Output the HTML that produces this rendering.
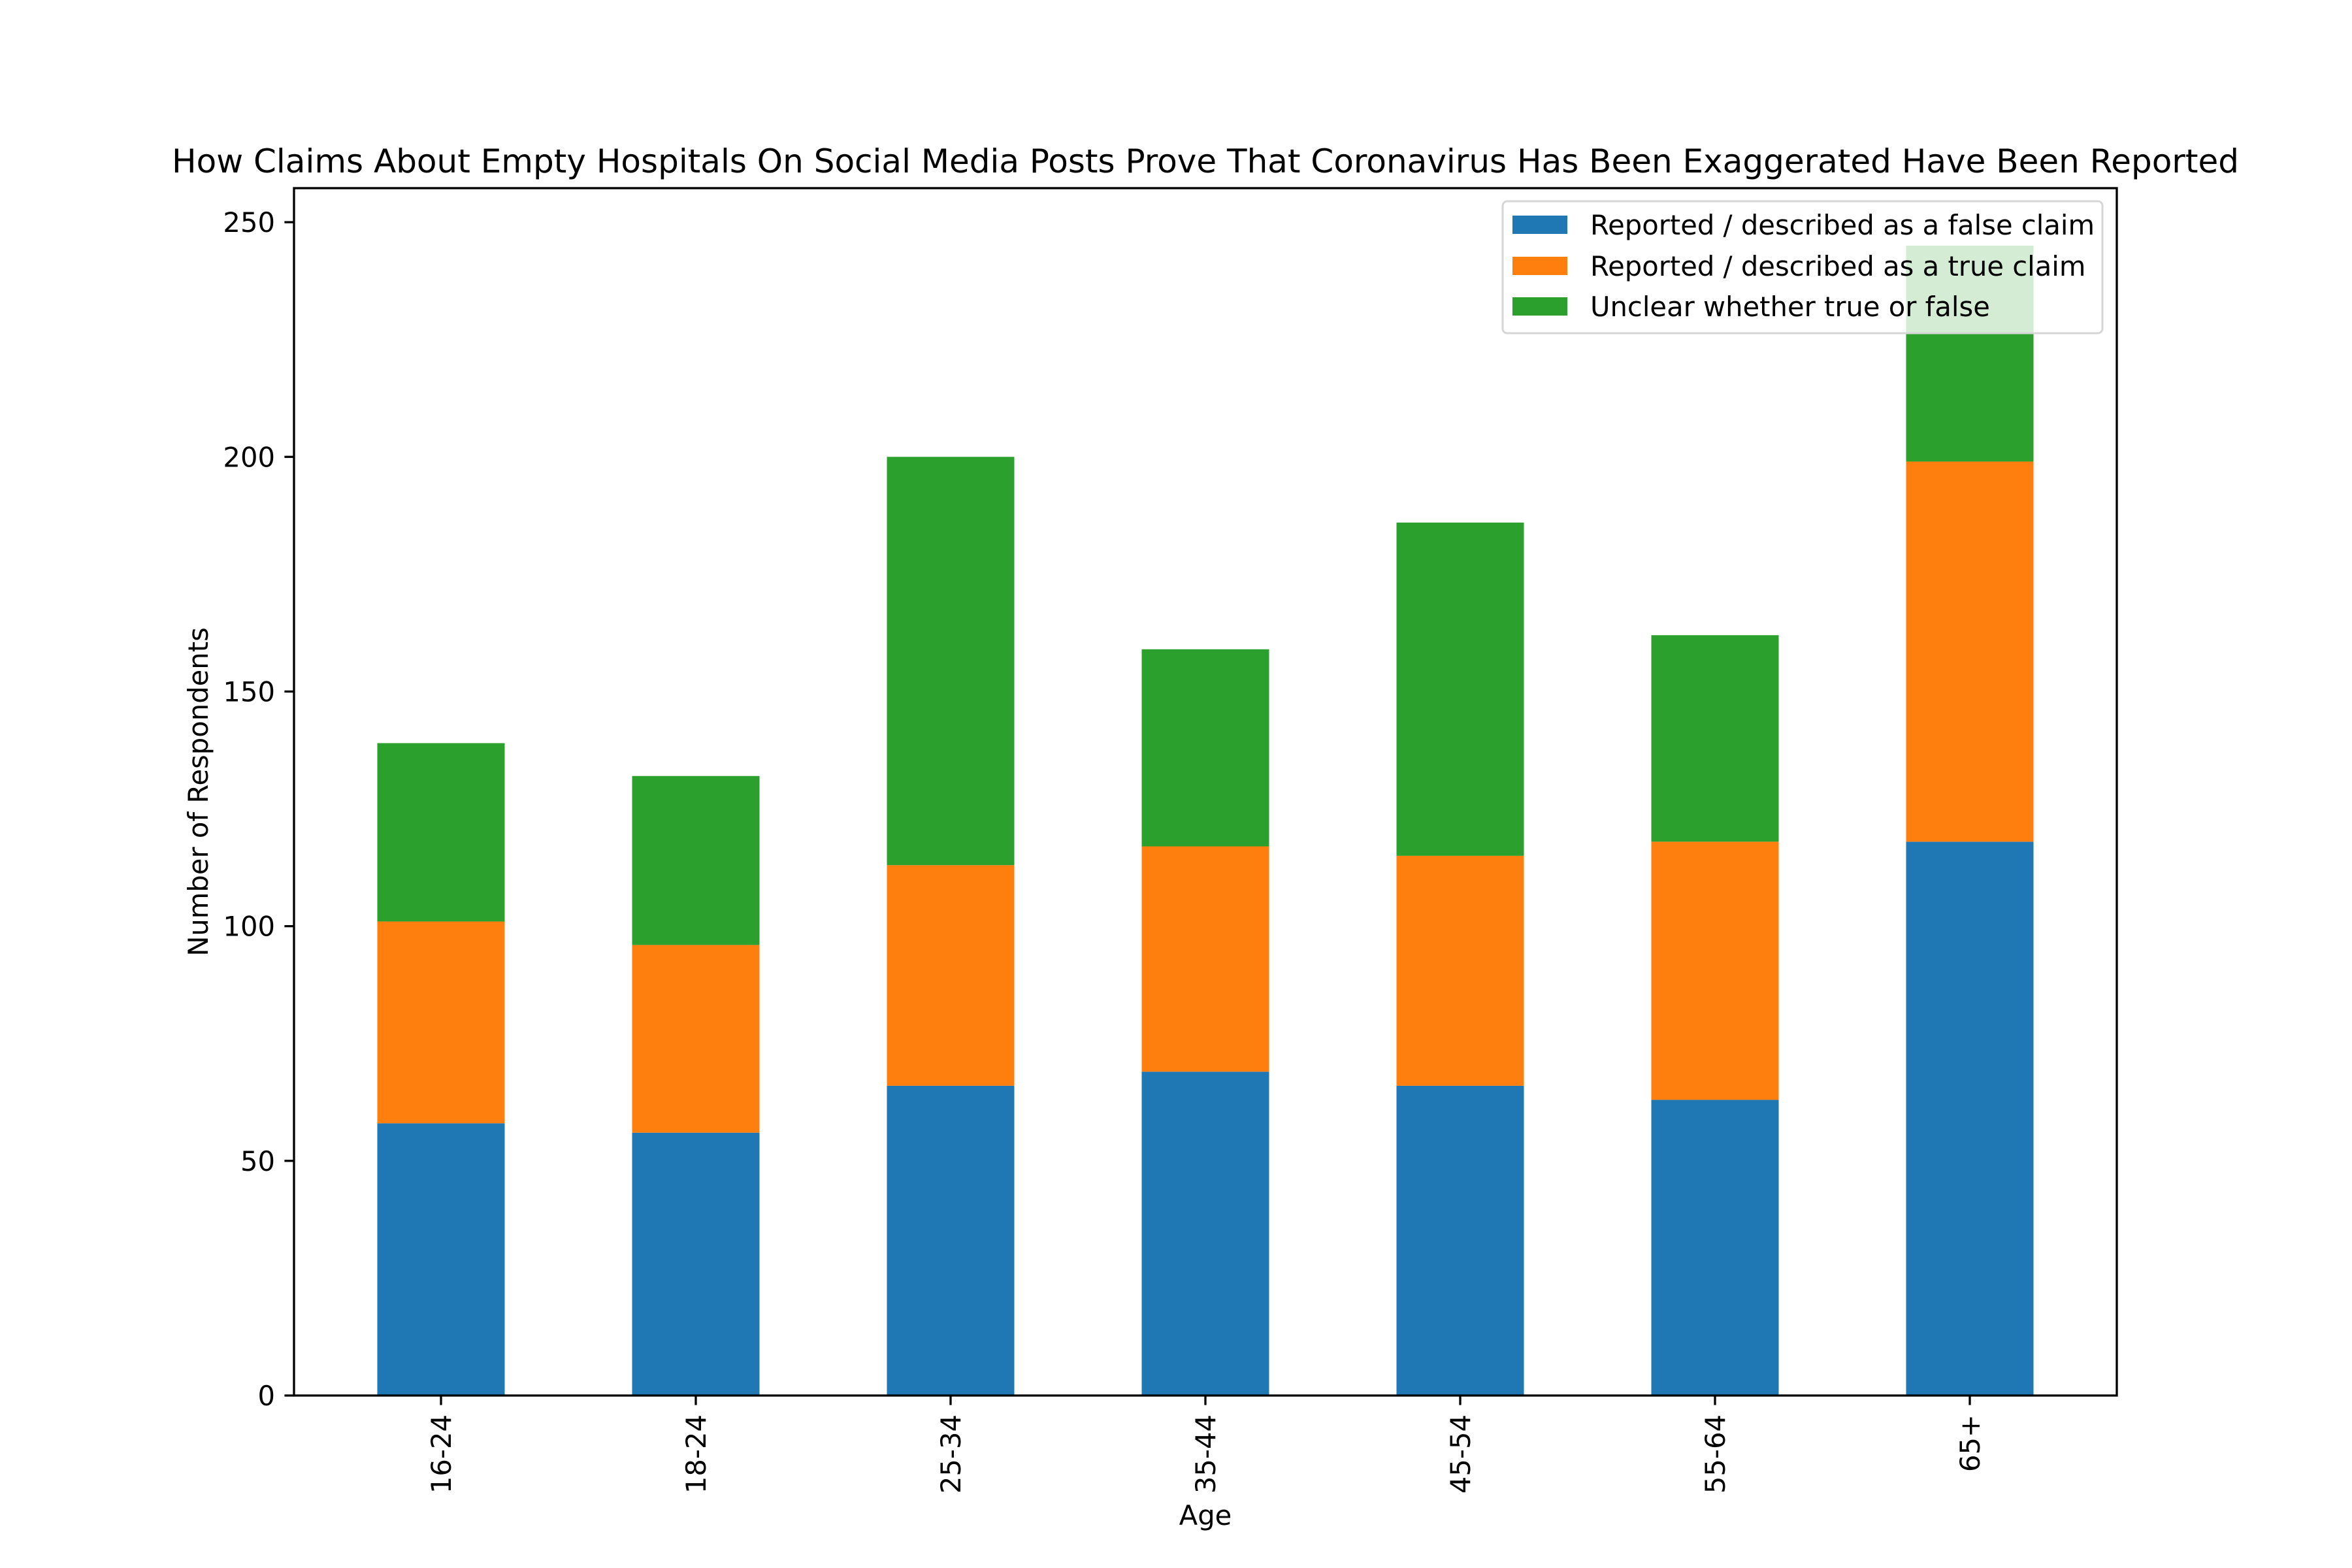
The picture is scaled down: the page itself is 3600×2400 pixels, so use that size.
<!DOCTYPE html>
<html><head><meta charset="utf-8"><style>
html,body{margin:0;padding:0;background:#fff;}
svg{display:block;font-family:"DejaVu Sans","Liberation Sans",sans-serif;}
</style></head><body>
<svg id="chart" width="3600" height="2400" viewBox="0 0 3600 2400" xmlns="http://www.w3.org/2000/svg">
<rect x="0" y="0" width="3600" height="2400" fill="#fff"/>
<g id="bars"></g>
<g id="axes"></g>
<text x="1845" y="264" font-size="50" text-anchor="middle">How Claims About Empty Hospitals On Social Media Posts Prove That Coronavirus Has Been Exaggerated Have Been Reported</text>
<text x="1845" y="2334" font-size="41.7" text-anchor="middle">Age</text>
<text transform="translate(318,1212) rotate(-90)" font-size="41.7" text-anchor="middle">Number of Respondents</text>
<g id="legend"></g>
</svg>
<script>
const categories = ["16-24","18-24","25-34","35-44","45-54","55-64","65+"];
const falseClaim = [58,56,66,69,66,63,118];
const trueClaim = [43,40,47,48,49,55,81];
const unclear = [38,36,87,42,71,44,46];
const yTicks = [0,50,100,150,200,250];
const seriesNames = ["Reported / described as a false claim","Reported / described as a true claim","Unclear whether true or false"];
const colors = ["#1f77b4","#ff7f0e","#2ca02c"];

const NS = "http://www.w3.org/2000/svg";
const L = 450, R = 3240, T = 288, B = 2136;
const yMax = 257.25;
const xStep = 390, xFirst = 675, barW = 195;
function xPos(i){ return xFirst + i * xStep; }
function yPos(v){ return B - v / yMax * (B - T); }
function mk(tag, attrs, parent){
  const e = document.createElementNS(NS, tag);
  for (const k in attrs) e.setAttribute(k, attrs[k]);
  parent.appendChild(e);
  return e;
}
const bars = document.getElementById('bars');
const series = [falseClaim, trueClaim, unclear];
const sKeys = ["false-claim","true-claim","unclear"];
categories.forEach((c, i) => {
  let base = 0;
  series.forEach((s, si) => {
    const y0 = yPos(base), y1 = yPos(base + s[i]);
    const r = mk('rect', {x: xPos(i) - barW/2, y: y1, width: barW, height: y0 - y1, fill: colors[si]}, bars);
    
    
    base += s[i];
  });
});
const axes = document.getElementById('axes');
yTicks.forEach(t => {
  const y = yPos(t);
  const ln = mk('line', {x1: L - 14.6, x2: L, y1: y, y2: y, stroke: '#000', 'stroke-width': 3.3}, axes);
  
  
  const tx = mk('text', {x: 421, y: y + 15, 'font-size': 41.7, 'text-anchor': 'end'}, axes);
  tx.textContent = t;
  
  
});
categories.forEach((c, i) => {
  const x = xPos(i);
  const ln = mk('line', {x1: x, x2: x, y1: B, y2: B + 14.6, stroke: '#000', 'stroke-width': 3.3}, axes);
  
  
  const tx = mk('text', {transform: 'translate(' + (x + 15) + ',' + (B + 29) + ') rotate(-90)', 'font-size': 41.7, 'text-anchor': 'end'}, axes);
  tx.textContent = c;
  
  
});
const frame = mk('rect', {x: L, y: T, width: R - L, height: B - T, fill: 'none', stroke: '#000', 'stroke-width': 3.3}, axes);



const lg = document.getElementById('legend');
const box = mk('rect', {x: 2300, y: 308, width: 918, height: 202, rx: 7, fill: 'rgba(255,255,255,0.8)', stroke: '#d6d6d6', 'stroke-width': 3}, lg);


const rowsY = [344, 407, 469];
seriesNames.forEach((n, i) => {
  const sw = mk('rect', {x: 2315, y: rowsY[i] - 14, width: 84, height: 28, fill: colors[i]}, lg);
  
  
  const tx = mk('text', {x: 2434, y: rowsY[i] + 15, 'font-size': 41.7}, lg);
  tx.textContent = n;
  
  
});
</script>
</body></html>
